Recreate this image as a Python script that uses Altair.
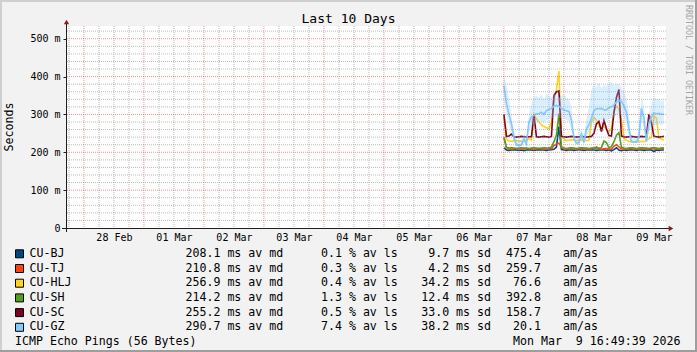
import altair as alt
import pandas as pd

# ---------------- data ----------------
names = ["CU-BJ", "CU-TJ", "CU-HLJ", "CU-SH", "CU-SC", "CU-GZ"]
colors = ["#004586", "#FF420E", "#FFD320", "#579D1C", "#7E0021", "#83CAFF"]
md_avg = [208.1, 210.8, 256.9, 214.2, 255.2, 290.7]
loss_avg = [0.1, 0.3, 0.4, 1.3, 0.5, 7.4]
sd_avg = [9.7, 4.2, 34.2, 12.4, 33.0, 38.2]
amas = [475.4, 259.7, 76.6, 392.8, 158.7, 20.1]

# hourly medians (ms) starting 2026-03-07 00:00
bj = [212, 206, 205, 206, 207, 206, 205, 206, 204, 206,
      207, 206, 205, 206, 207, 206, 206, 205, 206, 207,
      208, 214, 268, 207, 206, 205, 206, 206, 205, 206,
      207, 206, 205, 206, 206, 207, 206, 205, 206, 207,
      206, 205, 206, 204, 207, 212, 206, 204, 206, 205,
      206, 207, 206, 205, 206, 206, 205, 206, 207, 206,
      202, 206, 205, 206, 206]
tj = [238, 212, 209, 208, 209, 210, 209, 208, 209, 210,
      209, 209, 208, 209, 210, 209, 208, 209, 210, 209,
      218, 222, 224, 215, 209, 208, 209, 210, 209, 208,
      209, 209, 210, 209, 208, 209, 210, 214, 209, 208,
      209, 210, 209, 208, 216, 220, 214, 209, 208, 209,
      210, 209, 208, 209, 209, 210, 209, 208, 209, 210,
      209, 208, 209, 210, 209]
hlj = [295, 235, 230, 229, 230, 231, 230, 229, 230, 231,
       236, 232, 300, 288, 280, 272, 268, 265, 262, 280,
       340, 365, 415, 240, 236, 231, 232, 233, 232, 231,
       232, 233, 232, 231, 232, 280, 292, 285, 270, 262,
       268, 262, 255, 262, 310, 322, 315, 285, 237, 232,
       229, 228, 228, 229, 228, 229, 228, 232, 236, 240,
       296, 290, 238, 235, 232]
sh = [240, 213, 211, 212, 211, 210, 211, 212, 211, 211,
      210, 211, 212, 211, 210, 211, 212, 211, 211, 214,
      228, 245, 302, 212, 211, 210, 211, 212, 211, 210,
      211, 212, 211, 211, 210, 211, 212, 211, 211, 212,
      230, 226, 212, 215, 228, 245, 252, 213, 211, 210,
      211, 212, 211, 210, 211, 212, 211, 211, 210, 211,
      212, 211, 210, 211, 212]
sc = [300, 242, 243, 248, 241, 240, 241, 242, 241, 240,
      241, 241, 300, 241, 240, 241, 242, 241, 240, 242,
      350, 360, 362, 242, 241, 240, 241, 242, 241, 240,
      241, 242, 241, 240, 241, 242, 250, 275, 282, 255,
      284, 262, 244, 243, 305, 345, 366, 243, 241, 240,
      241, 242, 241, 240, 241, 242, 241, 242, 300, 278,
      242, 241, 240, 241, 242]
gz = [376, 330, 300, 275, 238, 220, 219, 219, 236, 222,
      280, 293, 298, 302, 302, 306, 300, 310, 313, 316,
      322, 324, 322, 316, 312, 310, 308, 285, 236, 224,
      225, 248, 226, 262, 272, 290, 310, 315, 315, 316,
      312, 312, 318, 320, 325, 333, 336, 335, 322, 306,
      262, 228, 227, 227, 240, 316, 290, 228, 276, 293,
      304, 302, 303, 300, 301]
gz_smoke_hi = [400, 380, 340, 300, 260, 235, 232, 232, 250, 240,
               300, 330, 345, 350, 345, 352, 340, 355, 350, 345,
               355, 350, 345, 350, 352, 345, 340, 320, 250, 240,
               236, 265, 240, 290, 320, 365, 380, 372, 385, 370,
               378, 375, 380, 388, 375, 382, 380, 372, 360, 345,
               300, 240, 238, 238, 260, 350, 320, 240, 300, 330,
               345, 340, 342, 335, 338]
gz_smoke_lo = [340, 300, 275, 255, 225, 216, 216, 216, 225, 218,
               255, 270, 275, 278, 280, 282, 276, 285, 288, 290,
               292, 295, 292, 290, 288, 285, 282, 262, 228, 220,
               218, 232, 220, 240, 252, 268, 282, 285, 282, 286,
               280, 282, 288, 290, 292, 298, 300, 298, 290, 280,
               240, 224, 224, 224, 228, 285, 265, 224, 255, 265,
               272, 272, 274, 272, 275]

y_ticks = [0, 100, 200, 300, 400, 500]
x_label_days = [(2, 28), (3, 1), (3, 2), (3, 3), (3, 4), (3, 5), (3, 6), (3, 7), (3, 8), (3, 9)]

NB = "\u00a0"  # keep monospace padding in SVG text

# ---------------- tables ----------------
start = pd.Timestamp("2026-03-07 00:00:00")
fmt = "%Y-%m-%dT%H:%M:%S"
rows = []
for name, arr in zip(names, [bj, tj, hlj, sh, sc, gz]):
    for i, v in enumerate(arr):
        rows.append({"time": (start + pd.Timedelta(hours=i)).strftime(fmt), "ms": v, "host": name})
df = pd.DataFrame(rows)

smoke = pd.DataFrame({
    "time": [(start + pd.Timedelta(hours=i)).strftime(fmt) for i in range(len(gz_smoke_hi))],
    "lo": gz_smoke_lo, "hi": gz_smoke_hi})

minor_x = [t.strftime(fmt) for t in pd.date_range("2026-02-27 18:00", "2026-03-09 12:00", freq="6h") if t.hour != 0]
major_x = [t.strftime(fmt) for t in pd.date_range("2026-02-28", "2026-03-09", freq="D")]
minor_y = [v for v in range(20, 521, 20) if v % 100 != 0]
major_y = [100, 200, 300, 400, 500]

# ---------------- layout ----------------
L, T, W, H = 66, 26, 600, 202
FONT = "DejaVu Sans Mono"

xs = alt.Scale(domain=[alt.DateTime(year=2026, month=2, date=27, hours=16, minutes=49, seconds=39),
                       alt.DateTime(year=2026, month=3, date=9, hours=16, minutes=49, seconds=39)])
ys = alt.Scale(domain=[0, 533.7], nice=False, zero=False)

xaxis = alt.Axis(values=[alt.DateTime(year=2026, month=m, date=d, hours=12) for m, d in x_label_days],
                 format="%d %b", grid=False, domain=False, ticks=False, tickSize=0,
                 labelFont=FONT, labelFontSize=10, labelColor="black", labelPadding=4,
                 labelFlush=False, labelOverlap=False, title=None)
yaxis = alt.Axis(values=y_ticks, labelExpr="datum.value == 0 ? '0' : datum.value + ' m'",
                 grid=False, domain=False, tickSize=3, tickColor="#1F1F1F",
                 labelFont=FONT, labelFontSize=10, labelColor="black", labelPadding=3, title=None)

lines = alt.Chart(df).mark_line(strokeWidth=1.6).encode(
    x=alt.X("time:T", scale=xs, axis=xaxis),
    y=alt.Y("ms:Q", scale=ys, axis=yaxis),
    color=alt.Color("host:N", scale=alt.Scale(domain=names, range=colors), legend=None),
    detail="host:N")

MINOR = dict(stroke="#8F8F8F", strokeOpacity=0.6, strokeWidth=1, strokeDash=[1, 1])
MAJOR = dict(stroke="#DE4F4F", strokeOpacity=0.6, strokeWidth=1, strokeDash=[1, 1])

grid_minor_x = alt.Chart(pd.DataFrame({"t": minor_x})).mark_rule(**MINOR).encode(
    x=alt.X("t:T", scale=xs, axis=xaxis))
grid_major_x = alt.Chart(pd.DataFrame({"t": major_x})).mark_rule(**MAJOR).encode(
    x=alt.X("t:T", scale=xs, axis=xaxis))
grid_minor_y = alt.Chart(pd.DataFrame({"v": minor_y})).mark_rule(**MINOR).encode(
    y=alt.Y("v:Q", scale=ys, axis=yaxis))
grid_major_y = alt.Chart(pd.DataFrame({"v": major_y})).mark_rule(**MAJOR).encode(
    y=alt.Y("v:Q", scale=ys, axis=yaxis))

smoke_layer = alt.Chart(smoke).mark_area(color="#83CAFF", opacity=0.3).encode(
    x=alt.X("time:T", scale=xs, axis=xaxis),
    y=alt.Y("lo:Q", scale=ys, axis=yaxis),
    y2="hi:Q")

# axis lines and arrows
axis_x = alt.Chart().mark_rule(color="#1F1F1F", strokeWidth=1).encode(
    x=alt.value(-4), x2=alt.value(W + 4), y=alt.value(H + 0.5))
axis_y = alt.Chart().mark_rule(color="#1F1F1F", strokeWidth=1).encode(
    x=alt.value(0.5), y=alt.value(H + 4), y2=alt.value(-3))
arrow_up = alt.Chart().mark_point(shape="triangle-up", filled=True, color="#801F1F", size=28, opacity=1).encode(
    x=alt.value(0.5), y=alt.value(-4))
arrow_right = alt.Chart().mark_point(shape="triangle-right", filled=True, color="#801F1F", size=28, opacity=1).encode(
    x=alt.value(W + 5), y=alt.value(H + 0.5))

def txt(text, x, y, size, align="left", angle=0, color="black"):
    return alt.Chart(pd.DataFrame({"t": [text.replace(" ", NB)]})).mark_text(
        font=FONT, fontSize=size, align=align, baseline="middle", angle=angle, color=color).encode(
        text="t:N", x=alt.value(x - L), y=alt.value(y - T))

ROW0, DROW = 253.8, 14.7
title = txt("Last 10 Days", 348.5, 19, 13, align="center")
ytitle = txt("Seconds", 10, 127, 11.6, align="center", angle=270)
watermark = txt("RRDTOOL / TOBI OETIKER", 688, 60, 8.3, align="center", angle=90, color="#A5A5A5")
footer_l = txt("ICMP Echo Pings (56 Bytes)", 15, ROW0 + 6 * DROW, 11.6)
footer_r = txt("Mon Mar  9 16:49:39 2026", 513, ROW0 + 6 * DROW, 11.6)

leg = pd.DataFrame({
    "row": list(range(len(names))),
    "name": names,
    "col": colors,
    "md": [f"{v:.1f} ms av md".replace(" ", NB) for v in md_avg],
    "ls": [f"{v:.1f} % av ls".replace(" ", NB) for v in loss_avg],
    "sd": [f"{v:.1f} ms sd".replace(" ", NB) for v in sd_avg],
    "am": [f"{v:.1f}" for v in amas],
    "u": ["am/as"] * len(names),
})
leg_base = alt.Chart(leg).transform_calculate(py=f"{ROW0 - T} + {DROW} * datum.row")
leg_boxes = leg_base.mark_square(size=64, filled=True, stroke="black", strokeWidth=1, opacity=1).encode(
    x=alt.value(19.5 - L), y=alt.Y("py:Q", scale=None), fill=alt.Fill("col:N", scale=None))

def leg_col(field, xabs, align="left"):
    return leg_base.mark_text(font=FONT, fontSize=11.6, align=align, baseline="middle", color="black").encode(
        text=f"{field}:N", x=alt.value(xabs - L), y=alt.Y("py:Q", scale=None))

leg_texts = [leg_col("name", 29.5), leg_col("md", 185.5), leg_col("ls", 321),
             leg_col("sd", 491, "right"), leg_col("am", 541, "right"), leg_col("u", 563)]

# image frame (shade lines)
def frame(x1, x2, y1, y2, color):
    return alt.Chart().mark_rect(color=color, opacity=1).encode(
        x=alt.value(x1 - L), x2=alt.value(x2 - L), y=alt.value(y1 - T), y2=alt.value(y2 - T))

frames = [frame(0, 697, 0, 2, "#CFCFCF"), frame(0, 2, 0, 352, "#CFCFCF"),
          frame(0, 697, 350, 352, "#9E9E9E"), frame(695, 697, 0, 352, "#9E9E9E")]

chart = alt.layer(
    lines, grid_minor_x, grid_minor_y, grid_major_x, grid_major_y,
    smoke_layer,
    axis_x, axis_y, arrow_up, arrow_right,
    title, ytitle, watermark, footer_l, footer_r,
    leg_boxes, *leg_texts, *frames
).properties(
    width=W, height=H,
    padding={"left": L, "top": T, "right": 697 - L - W, "bottom": 352 - T - H},
    autosize=alt.AutoSizeParams(type="none"),
    background="#F2F2F2",
).configure_view(stroke=None, fill="white")

chart.save("out.html", embed_options={"renderer": "svg", "actions": False})
